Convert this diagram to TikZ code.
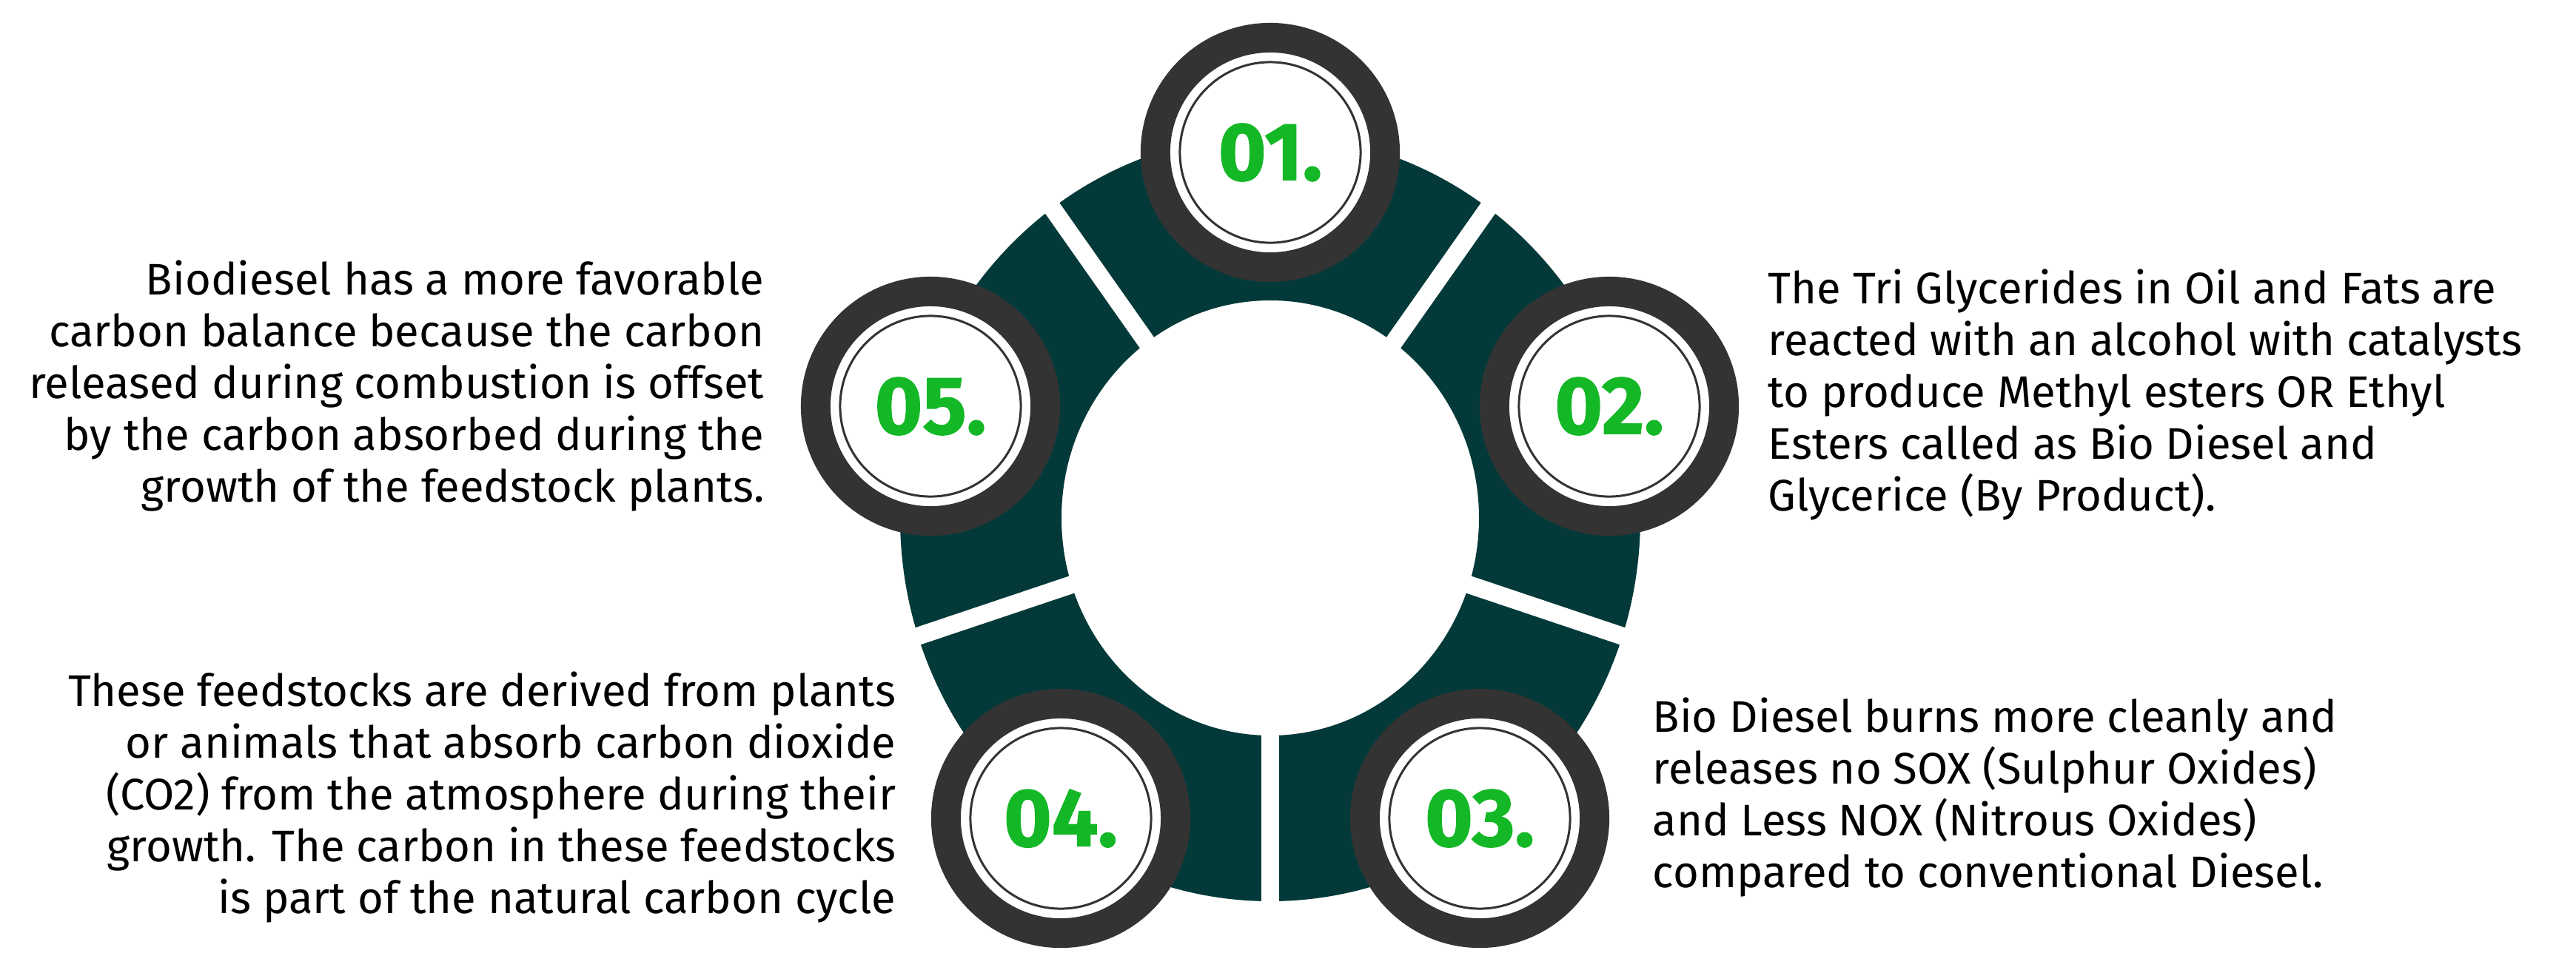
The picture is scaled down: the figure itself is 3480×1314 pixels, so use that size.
\documentclass[tikz,border=0pt]{standalone}
\usepackage{fontspec}
\setmainfont{Fira Sans}
\newfontfamily\numfont{Fira Sans}[BoldFeatures={FakeBold=1.2}]
\usepackage{xcolor}
\usepackage{tikz}

\definecolor{segteal}{HTML}{033A39}
\definecolor{tyregrey}{HTML}{333333}
\definecolor{numgreen}{HTML}{14B826}

\begin{document}
\begin{tikzpicture}[x=0.01cm, y=-0.01cm, every node/.style={font=\fontsize{17}{19.9}\selectfont}]
  \tikzstyle{badge} = [circle, draw=tyregrey, line width=0.4cm, fill=white, minimum size=3.1cm, inner sep=0pt]
  \tikzstyle{badgeline} = [circle, draw=tyregrey, line width=0.03cm, minimum size=2.44cm, inner sep=0pt, text=numgreen, font=\numfont\fontsize{31.5}{32}\selectfont\bfseries]
  \tikzstyle{textleft} = [anchor=base west, align=left, inner sep=0pt]
  \tikzstyle{textright} = [anchor=base east, align=right, inner sep=0pt]
  \tikzstyle{gap} = [draw=white, line width=0.24cm]

  \useasboundingbox (0,0) rectangle (3480,1314);

  % Ring
  \coordinate (hub) at (1716,700);
  \fill[segteal, even odd rule] (hub) ellipse [x radius=500, y radius=518] (hub) ellipse [x radius=282, y radius=294];
  \foreach \a in {54,126,198,270,342}
    \draw[gap] (hub) -- ++({600*cos(\a)},{-620*sin(\a)});

  % Badges
  \node[badge] (b1) at (1716,206) {};
  \node[badgeline] (n1) at (b1) {01.};
  \node[badge] (b2) at (2174,549) {};
  \node[badgeline] (n2) at (b2) {02.};
  \node[badge] (b3) at (1999,1106) {};
  \node[badgeline] (n3) at (b3) {03.};
  \node[badge] (b4) at (1433,1106) {};
  \node[badgeline] (n4) at (b4) {04.};
  \node[badge] (b5) at (1257,549) {};
  \node[badgeline] (n5) at (b5) {05.};

  % Texts (anchored at the baseline of the last line)
  \node[textleft] (t2) at (2388,690) {The Tri Glycerides in Oil and Fats are\\reacted with an alcohol with catalysts\\to produce Methyl esters OR Ethyl\\Esters called as Bio Diesel and\\Glycerice (By Product).};
  \node[textleft] (t3) at (2232,1199) {Bio Diesel burns more cleanly and\\releases no SOX (Sulphur Oxides)\\and Less NOX (Nitrous Oxides)\\compared to conventional Diesel.};
  \node[textright] (t4) at (1211,1234) {These feedstocks are derived from plants\\or animals that absorb carbon dioxide\\(CO2) from the atmosphere during their\\growth. The carbon in these feedstocks\\is part of the natural carbon cycle};
  \node[textright] (t5) at (1033,678) {Biodiesel has a more favorable\\carbon balance because the carbon\\released during combustion is offset\\by the carbon absorbed during the\\growth of the feedstock plants.};
\end{tikzpicture}
\end{document}
